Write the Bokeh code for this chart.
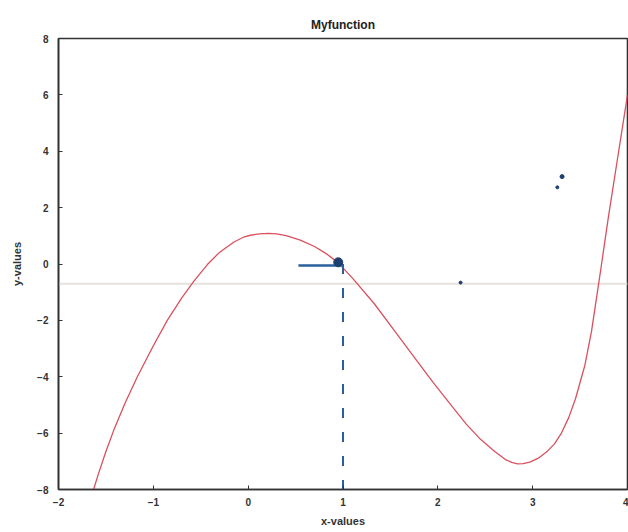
from bokeh.plotting import figure
from bokeh.models import FixedTicker, Range1d
from bokeh.embed import file_html
from bokeh.resources import INLINE

# curve
curve_x = [-1.63, -1.575, -1.50, -1.42, -1.30, -1.17, -1.00, -0.853, -0.70, -0.57,
           -0.43, -0.30, -0.15, -0.05, 0.025, 0.12, 0.215, 0.30, 0.40, 0.55,
           0.70, 0.835, 0.95, 1.10, 1.33, 1.55, 1.75, 1.95, 2.15, 2.30,
           2.45, 2.60, 2.72, 2.78, 2.84, 2.90, 2.97, 3.06, 3.155, 3.23,
           3.30, 3.38, 3.45, 3.55, 3.62, 3.68, 3.72, 3.80, 3.90, 4.0]
curve_y = [-8.0, -7.40, -6.65, -5.92, -4.95, -4.01, -2.90, -2.0, -1.20, -0.60,
           -0.02, 0.42, 0.78, 0.95, 1.02, 1.07, 1.09, 1.07, 1.01, 0.85,
           0.62, 0.34, 0.04, -0.50, -1.41, -2.40, -3.30, -4.20, -5.05, -5.68,
           -6.22, -6.65, -6.95, -7.04, -7.09, -7.08, -7.03, -6.89, -6.64, -6.38,
           -6.02, -5.45, -4.80, -3.60, -2.40, -1.05, -0.15, 1.70, 3.85, 6.0]

# annotation marks
vline_x = [1.0, 1.0]
vline_y = [0.0, -8.0]
hseg_x = [0.53, 0.975]
hseg_y = [-0.05, -0.05]
dot_x = [0.95, 3.31, 3.26, 2.24]
dot_y = [0.06, 3.10, 2.72, -0.66]
dot_size = [9, 4, 3, 3]
scan_line_y = -0.7

x_ticks = [-2, -1, 0, 1, 2, 3, 4]
y_ticks = [-8, -6, -4, -2, 0, 2, 4, 6, 8]

p = figure(width=628, height=532, output_backend="svg", toolbar_location=None,
           x_range=Range1d(-2, 4), y_range=Range1d(-8, 8),
           min_border_left=58, min_border_right=1, min_border_top=38, min_border_bottom=43,
           title="Myfunction")
p.title.align = "center"
p.title.text_font = "Liberation Sans"
p.title.text_font_size = "12px"
p.title.text_font_style = "bold"
p.title.text_color = "#222222"
p.title.offset = 0
p.title.standoff = 13

p.grid.visible = False
p.outline_line_color = "#333333"
p.outline_line_width = 1.6
p.background_fill_color = "white"
p.border_fill_color = "white"

for ax in (p.xaxis[0], p.yaxis[0]):
    ax.major_tick_in = 4
    ax.major_tick_out = 0
    ax.minor_tick_line_color = None
    ax.axis_line_color = "#333333"
    ax.axis_line_width = 1.6
    ax.major_tick_line_color = "#333333"
    ax.major_label_text_font = "Liberation Sans"
    ax.major_label_text_font_style = "bold"
    ax.major_label_text_font_size = "10px"
    ax.major_label_text_color = "#333333"
    ax.axis_label_text_font = "Liberation Sans"
    ax.axis_label_text_font_style = "bold"
    ax.axis_label_text_font_size = "11px"
    ax.axis_label_text_color = "#333333"

p.xaxis[0].ticker = FixedTicker(ticks=x_ticks)
p.yaxis[0].ticker = FixedTicker(ticks=y_ticks)
p.xaxis[0].axis_label = "x-values"
p.yaxis[0].axis_label = "y-values"
p.xaxis[0].major_label_standoff = 8
p.xaxis[0].axis_label_standoff = 6
p.yaxis[0].major_label_standoff = 10
p.yaxis[0].axis_label_standoff = 11

# faint scan line
p.line([-2, 4], [scan_line_y, scan_line_y], line_color="#e6e2dc", line_width=2)

p.line(curve_x, curve_y, line_color="#d9505e", line_width=1.3)
p.line(vline_x, vline_y, line_color="#2a5f9e", line_width=2, line_dash="10 14")
p.line(hseg_x, hseg_y, line_color="#2a5f9e", line_width=2.5)
p.scatter(dot_x, dot_y, size=dot_size, color="#1f3f6f")

open("out.html", "w").write(file_html(p, INLINE))
